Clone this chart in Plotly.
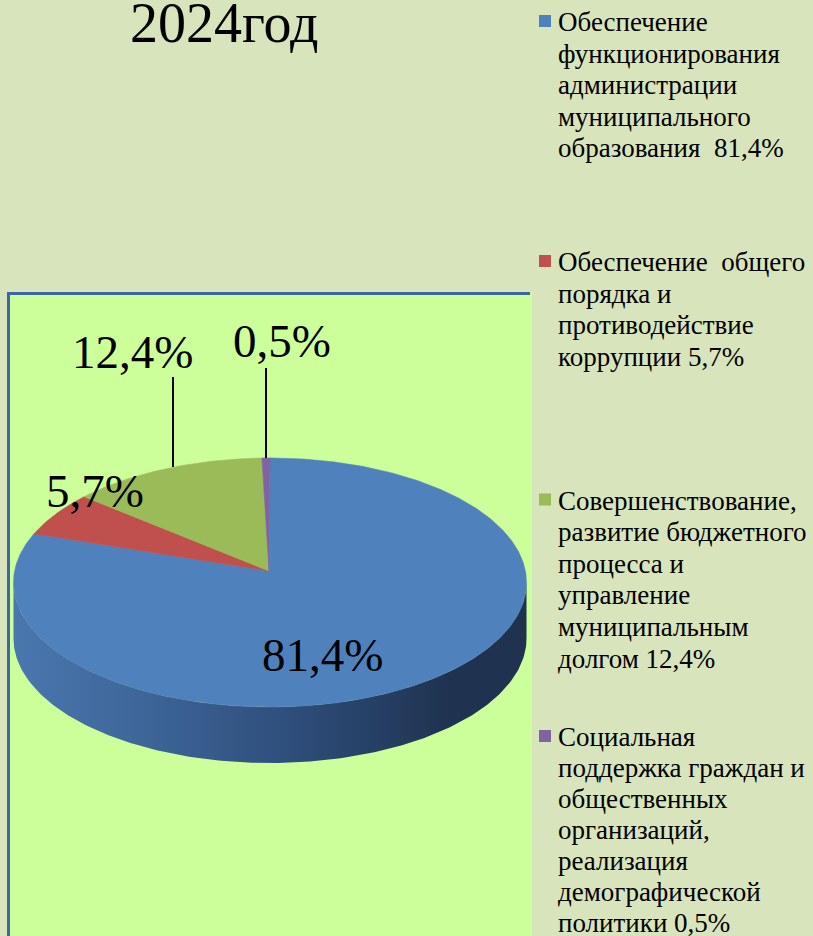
import numpy as np
import plotly.graph_objects as go

# ---------------- data ----------------
title_text = "2024год"
categories = [
    "Обеспечение функционирования администрации муниципального образования",
    "Обеспечение  общего порядка и противодействие коррупции",
    "Совершенствование, развитие бюджетного процесса и управление муниципальным долгом",
    "Социальная поддержка граждан и общественных организаций, реализация демографической политики",
]
values = [81.4, 5.7, 12.4, 0.5]
value_labels = ["81,4%", "5,7%", "12,4%", "0,5%"]
legend_lines = [
    ["Обеспечение", "функционирования", "администрации", "муниципального", "образования  81,4%"],
    ["Обеспечение  общего", "порядка и", "противодействие", "коррупции 5,7%"],
    ["Совершенствование,", "развитие бюджетного", "процесса и", "управление", "муниципальным", "долгом 12,4%"],
    ["Социальная", "поддержка граждан и", "общественных", "организаций,", "реализация", "демографической", "политики 0,5%"],
]
colors = ["#4F81BD", "#C0504D", "#9BBB59", "#8064A2"]

# ---------------- layout constants (pixels) ----------------
W, H = 813, 936
CX, CY = 270.0, 582.5
RX, RY = 256.5, 124.5
APEX = (269.0, 571.0)
DEPTH = 56.0
SERIF = "Liberation Serif"

fig = go.Figure()


def ell(theta_deg, dy=0.0):
    t = np.radians(theta_deg)
    return CX + RX * np.sin(t), CY - RY * np.cos(t) + dy


# side of the pie (front half)
th = np.linspace(90, 270, 181)
xt, yt = ell(th)
xb, yb = ell(th[::-1], DEPTH)
fig.add_trace(go.Scatter(
    x=np.concatenate([xt, xb, xt[:1]]), y=np.concatenate([yt, yb, yt[:1]]),
    mode="lines", line=dict(width=0), fill="toself",
    fillgradient=dict(type="horizontal",
                      colorscale=[[0, "#4A77AF"], [0.25, "#3E6699"], [0.55, "#2E4D7A"],
                                  [0.85, "#1F3350"], [1, "#1F3350"]]),
    hoverinfo="skip", showlegend=False))

# top faces
total = sum(values)
start = 0.0
for v, c in zip(values, colors):
    span = 360.0 * v / total
    a = np.linspace(start, start + span, max(int(span * 2), 4))
    ax_, ay_ = ell(a)
    fig.add_trace(go.Scatter(
        x=np.concatenate([[APEX[0]], ax_, [APEX[0]]]),
        y=np.concatenate([[APEX[1]], ay_, [APEX[1]]]),
        mode="lines", line=dict(width=0.6, color=c), fill="toself", fillcolor=c,
        hoverinfo="skip", showlegend=False))
    start += span

shapes = [
    dict(type="rect", xref="x", yref="y", x0=7, x1=532, y0=292, y1=945,
         fillcolor="#CCFF99", line=dict(width=0), layer="below"),
    dict(type="line", xref="x", yref="y", x0=8.5, x1=8.5, y0=292, y1=945,
         line=dict(color="#3D67A2", width=3), layer="below"),
    dict(type="line", xref="x", yref="y", x0=7, x1=530, y0=293.5, y1=293.5,
         line=dict(color="#3D67A2", width=3), layer="below"),
    # leader lines
    dict(type="line", xref="x", yref="y", x0=173, x1=173, y0=377, y1=467,
         line=dict(color="black", width=2)),
    dict(type="line", xref="x", yref="y", x0=266, x1=266, y0=368, y1=458,
         line=dict(color="black", width=2)),
]

annotations = [
    dict(text=title_text, x=224, y=23, xref="x", yref="y", showarrow=False,
         xanchor="center", yanchor="middle", font=dict(family=SERIF, size=56, color="black")),
]
label_pos = [(322, 654.5), (95, 491), (132, 351.5), (282, 341)]
for lab, (lx, ly) in zip(value_labels, label_pos):
    annotations.append(dict(text=lab, x=lx, y=ly, xref="x", yref="y", showarrow=False,
                            xanchor="center", yanchor="middle",
                            font=dict(family=SERIF, size=47, color="black")))

# legend
legend_first_y = [21, 261, 499.5, 736]
legend_steps = [31.6, 31.6, 31.6, 31.0]
mk_x, mk_y = [], []
for lines, y0, step in zip(legend_lines, legend_first_y, legend_steps):
    mk_x.append(545)
    mk_y.append(y0)
    for i, ln in enumerate(lines):
        annotations.append(dict(text=ln, x=556, y=y0 + i * step + 1, xref="x", yref="y",
                                showarrow=False, xanchor="left", yanchor="middle",
                                font=dict(family=SERIF, size=27, color="black")))
fig.add_trace(go.Scatter(x=mk_x, y=mk_y, mode="markers",
                         marker=dict(symbol="square", size=12, color=colors, line=dict(width=0)),
                         hoverinfo="skip", showlegend=False))

fig.update_layout(
    width=W, height=H, margin=dict(l=0, r=0, t=0, b=0),
    paper_bgcolor="#D8E4BC", plot_bgcolor="rgba(0,0,0,0)",
    xaxis=dict(range=[0, W], visible=False, fixedrange=True),
    yaxis=dict(range=[H, 0], visible=False, fixedrange=True),
    shapes=shapes, annotations=annotations, showlegend=False,
)

fig.write_html("out.html", config={"displayModeBar": False},
               post_script="document.body.style.margin='0';document.body.style.padding='0';")
